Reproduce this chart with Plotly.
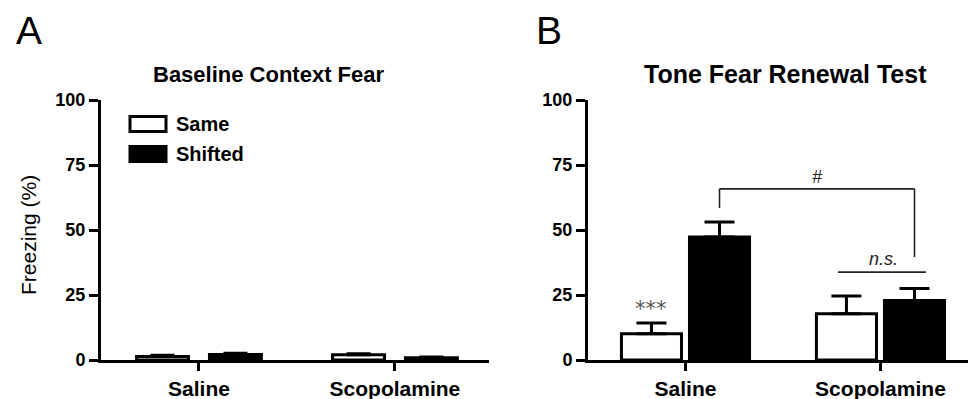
import plotly.graph_objects as go

# ---------------- data ----------------
categories = ["Saline", "Scopolamine"]
series_names = ["Same", "Shifted"]

# Panel A: Baseline Context Fear (freezing %)
baseline_same = [1.3, 2.0]
baseline_same_err = [0.5, 0.4]
baseline_shifted = [2.1, 0.9]
baseline_shifted_err = [0.5, 0.3]

# Panel B: Tone Fear Renewal Test (freezing %)
renewal_same = [10.1, 17.8]
renewal_same_err = [4.1, 6.8]
renewal_shifted = [47.3, 22.9]
renewal_shifted_err = [5.8, 4.6]

y_ticks = [0, 25, 50, 75, 100]

# ---------------- geometry / style ----------------
# the page body has an 8px margin, so the figure is 8px smaller and
# positions are given in window pixels minus that offset
OFF = 8
W, H = 976 - OFF, 399 - OFF
FONT = "Liberation Sans, Arial, Helvetica, sans-serif"

def px_x(p):
    return (p - OFF) / W

def px_y(p):
    return 1 - (p - OFF) / H

y_dom = [px_y(360), px_y(100)]

# bar widths / offsets (category units)
A_w, A_gap = 0.265, 0.107
B_w, B_gap = 0.308, 0.041
A_off = [-(A_gap / 2 + A_w), A_gap / 2]
B_off = [-(B_gap / 2 + B_w), B_gap / 2]

fig = go.Figure()

def add_bars(xa, ya, vals, errs, name, fill, width, offset, capw):
    fig.add_trace(go.Bar(
        x=categories, y=vals, name=name,
        width=width, offset=offset,
        marker=dict(color=fill, line=dict(color="black", width=3)),
        error_y=dict(type="data", symmetric=False, array=errs,
                     arrayminus=[0] * len(errs), color="black",
                     thickness=3, width=capw),
        xaxis=xa, yaxis=ya, showlegend=False,
    ))

add_bars("x", "y", baseline_same, baseline_same_err, series_names[0], "white", A_w, A_off[0], 12)
add_bars("x", "y", baseline_shifted, baseline_shifted_err, series_names[1], "black", A_w, A_off[1], 12)
add_bars("x2", "y2", renewal_same, renewal_same_err, series_names[0], "white", B_w, B_off[0], 15)
add_bars("x2", "y2", renewal_shifted, renewal_shifted_err, series_names[1], "black", B_w, B_off[1], 15)

xaxis_common = dict(
    type="category", showline=True, linewidth=3, linecolor="black",
    ticks="outside", ticklen=8, tickwidth=3, tickcolor="black",
    showgrid=False, zeroline=False, automargin=False,
    tickfont=dict(family=FONT, size=21, color="black", weight="bold"),
    fixedrange=True,
)
yaxis_common = dict(
    range=[0, 100], tickvals=y_ticks, showline=True, linewidth=3,
    linecolor="black", ticks="outside", ticklen=9, tickwidth=3,
    tickcolor="black", showgrid=False, zeroline=False, domain=y_dom,
    automargin=False,
    tickfont=dict(family=FONT, size=18, color="black", weight="bold"),
    fixedrange=True,
)

fig.update_layout(
    width=W, height=H,
    margin=dict(l=0, r=0, t=0, b=0, pad=0, autoexpand=False),
    paper_bgcolor="white", plot_bgcolor="white",
    barmode="overlay",
    showlegend=False,
    xaxis=dict(domain=[px_x(101), px_x(489)], range=[-0.5, 1.48], anchor="y", **xaxis_common),
    yaxis=dict(anchor="x", **yaxis_common),
    xaxis2=dict(domain=[px_x(588), 1.0], range=[-0.5, 1.49], anchor="y2", **xaxis_common),
    yaxis2=dict(anchor="x2", **yaxis_common),
)

ann = []
shapes = []

# panel letters
for letter, cx in (("A", 29), ("B", 549)):
    ann.append(dict(text=letter, x=px_x(cx), y=1.0, xref="paper", yref="paper",
                    showarrow=False, font=dict(family=FONT, size=39, color="black"),
                    xanchor="center", yanchor="top", borderpad=0))
# titles
ann.append(dict(text="<b>Baseline Context Fear</b>", x=px_x(269), y=px_y(75), xref="paper", yref="paper",
                showarrow=False, font=dict(family=FONT, size=22, color="black"),
                xanchor="center", yanchor="middle"))
ann.append(dict(text="<b>Tone Fear Renewal Test</b>", x=px_x(785), y=px_y(74), xref="paper", yref="paper",
                showarrow=False, font=dict(family=FONT, size=25, color="black"),
                xanchor="center", yanchor="middle"))
# y axis title
ann.append(dict(text="Freezing (%)", x=px_x(28), y=px_y(235), xref="paper", yref="paper",
                showarrow=False, textangle=-90, font=dict(family=FONT, size=21, color="black"),
                xanchor="center", yanchor="middle"))

# legend (manual, large swatches)
for i, (nm, fill) in enumerate(zip(series_names, ["white", "black"])):
    top = 115 + 30 * i
    shapes.append(dict(type="rect", xref="paper", yref="paper",
                       x0=px_x(130), x1=px_x(166), y0=px_y(top + 1.5), y1=px_y(top + 16.5),
                       fillcolor=fill, line=dict(color="black", width=3)))
    ann.append(dict(text="<b>" + nm + "</b>", x=px_x(174), y=px_y(top + 9), xref="paper", yref="paper",
                    showarrow=False, font=dict(family=FONT, size=20, color="black"),
                    xanchor="left", yanchor="middle"))

# significance marks on panel B
same_c = B_off[0] + B_w / 2
shift_c = B_off[1] + B_w / 2
sal_shift_x = 0 + shift_c
scop_shift_x = 1 + shift_c
br_y = 65.8
line_st = dict(color="#222222", width=1.6)
shapes.append(dict(type="line", xref="x2", yref="y2", x0=sal_shift_x, x1=sal_shift_x,
                   y0=58.5, y1=br_y, line=line_st))
shapes.append(dict(type="line", xref="x2", yref="y2", x0=sal_shift_x, x1=scop_shift_x,
                   y0=br_y, y1=br_y, line=line_st))
shapes.append(dict(type="line", xref="x2", yref="y2", x0=scop_shift_x, x1=scop_shift_x,
                   y0=39.6, y1=br_y, line=line_st))
ann.append(dict(text="<i>#</i>", x=(sal_shift_x + scop_shift_x) / 2, y=70.5, xref="x2", yref="y2",
                showarrow=False, font=dict(family=FONT, size=18, color="#222222"),
                xanchor="center", yanchor="middle"))
# n.s.
shapes.append(dict(type="line", xref="x2", yref="y2", x0=0.782, x1=1.233,
                   y0=33.8, y1=33.8, line=line_st))
ann.append(dict(text="<i>n.s.</i>", x=1.018, y=38.8, xref="x2", yref="y2",
                showarrow=False, font=dict(family=FONT, size=18, color="#222222"),
                xanchor="center", yanchor="middle"))
# ***
ann.append(dict(text="***", x=0 + same_c, y=19.8, xref="x2", yref="y2",
                showarrow=False, font=dict(family="DejaVu Sans", size=21, color="#555555"),
                xanchor="center", yanchor="middle"))

fig.update_layout(annotations=ann, shapes=shapes)

fig.write_html("out.html")
